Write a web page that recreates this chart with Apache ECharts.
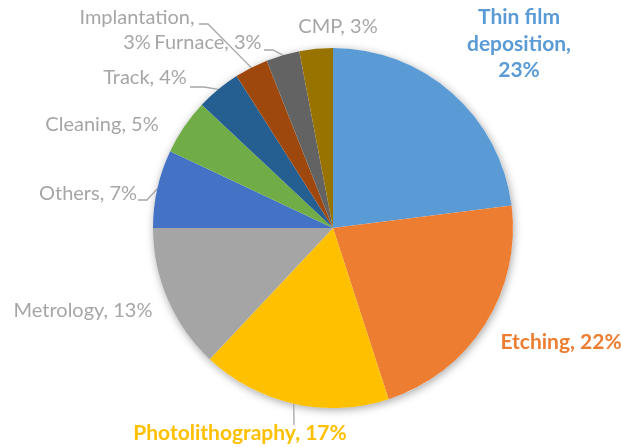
<!DOCTYPE html>
<html>
<head>
<meta charset="utf-8">
<style>
  html, body { margin: 0; padding: 0; background: #ffffff; }
  #chart { width: 621px; height: 447px; }
</style>
<script src="https://cdn.jsdelivr.net/npm/echarts@6/dist/echarts.min.js"></script>
</head>
<body>
<div id="chart"></div>
<script>
// Share of equipment spending by process step (%)
const categories = ['Thin film deposition', 'Etching', 'Photolithography', 'Metrology', 'Others',
                    'Cleaning', 'Track', 'Implantation', 'Furnace', 'CMP'];
const shares = [23, 22, 17, 13, 7, 5, 4, 3, 3, 3];

// Slice colours
const sliceColors = ['#5B9BD5', '#ED7D31', '#FFC000', '#A5A5A5', '#4472C4',
                     '#70AD47', '#255E91', '#9E480E', '#636363', '#997300'];

// Label styling: highlighted labels are bold and take the slice colour
const boldLabels = [0, 1, 2];

// Label centres in px
const labelAnchor = [
  [519, 44], [561, 342], [240, 433], [83, 311], [88, 194],
  [102, 125], [145, 78], [137, 30], [208, 43], [338, 27]
];

// Leader line bends (from the label end towards the slice edge), px
const leaderBends = {
  2: [[294, 425]],
  4: [[138, 200], [147, 200]],
  6: [[190, 87], [204, 87]],
  7: [[199, 24], [208, 24]],
  8: [[264, 50], [273, 50]]
};

const grey = '#A6A6A6';
const font = 'Lato, "Open Sans", sans-serif';

function labelText(name, value, idx) {
  let s = name + ', ' + value + '%';
  if (idx === 0) s = s.replace('film ', 'film\n').replace(', ', ',\n');
  if (idx === 7) s = s.replace(', ', ',\n');
  return s;
}

const data = categories.map((name, i) => {
  const bold = boldLabels.indexOf(i) >= 0;
  return {
    name: name,
    value: shares[i],
    itemStyle: { color: sliceColors[i] },
    label: {
      color: bold ? sliceColors[i] : grey,
      fontWeight: bold ? 'bold' : 'normal',
      fontSize: bold ? 21 : 20,
      lineHeight: i === 0 ? 26.5 : 25
    },
    labelLine: { show: leaderBends[i] !== undefined }
  };
});

const chart = echarts.init(document.getElementById('chart'), null, { renderer: 'canvas' });
chart.setOption({
  animation: false,
  backgroundColor: '#ffffff',
  series: [
    {
      // soft drop shadow under the whole pie
      type: 'pie',
      silent: true,
      center: [333, 228],
      radius: [0, 180],
      z: 1,
      label: { show: false },
      labelLine: { show: false },
      itemStyle: {
        color: '#ffffff',
        shadowBlur: 8,
        shadowColor: 'rgba(0,0,0,0.35)',
        shadowOffsetX: 1,
        shadowOffsetY: 2
      },
      data: [{ value: 1 }]
    },
    {
      type: 'pie',
      center: [333, 228],
      radius: [0, 180],
      startAngle: 90,
      clockwise: true,
      z: 2,
      avoidLabelOverlap: false,
      itemStyle: { borderWidth: 0 },
      label: {
        show: true,
        position: 'outside',
        fontFamily: font,
        align: 'center',
        formatter: p => labelText(p.name, p.value, p.dataIndex)
      },
      labelLine: {
        length: 12,
        length2: 10,
        smooth: false,
        lineStyle: { color: grey, width: 1.3 }
      },
      labelLayout: function (params) {
        const i = params.dataIndex;
        const a = labelAnchor[i];
        const out = { x: a[0], y: a[1], align: 'center', verticalAlign: 'middle', hideOverlap: false, moveOverlap: false };
        const bends = leaderBends[i];
        if (bends && params.labelLinePoints && params.labelLinePoints.length) {
          // keep the slice-edge point the library computed, replace the rest
          const edge = params.labelLinePoints[0];
          out.labelLinePoints = bends.concat([[edge[0], edge[1]]]);
        }
        return out;
      },
      emphasis: { disabled: true },
      data: data
    }
  ]
});
</script>
</body>
</html>
